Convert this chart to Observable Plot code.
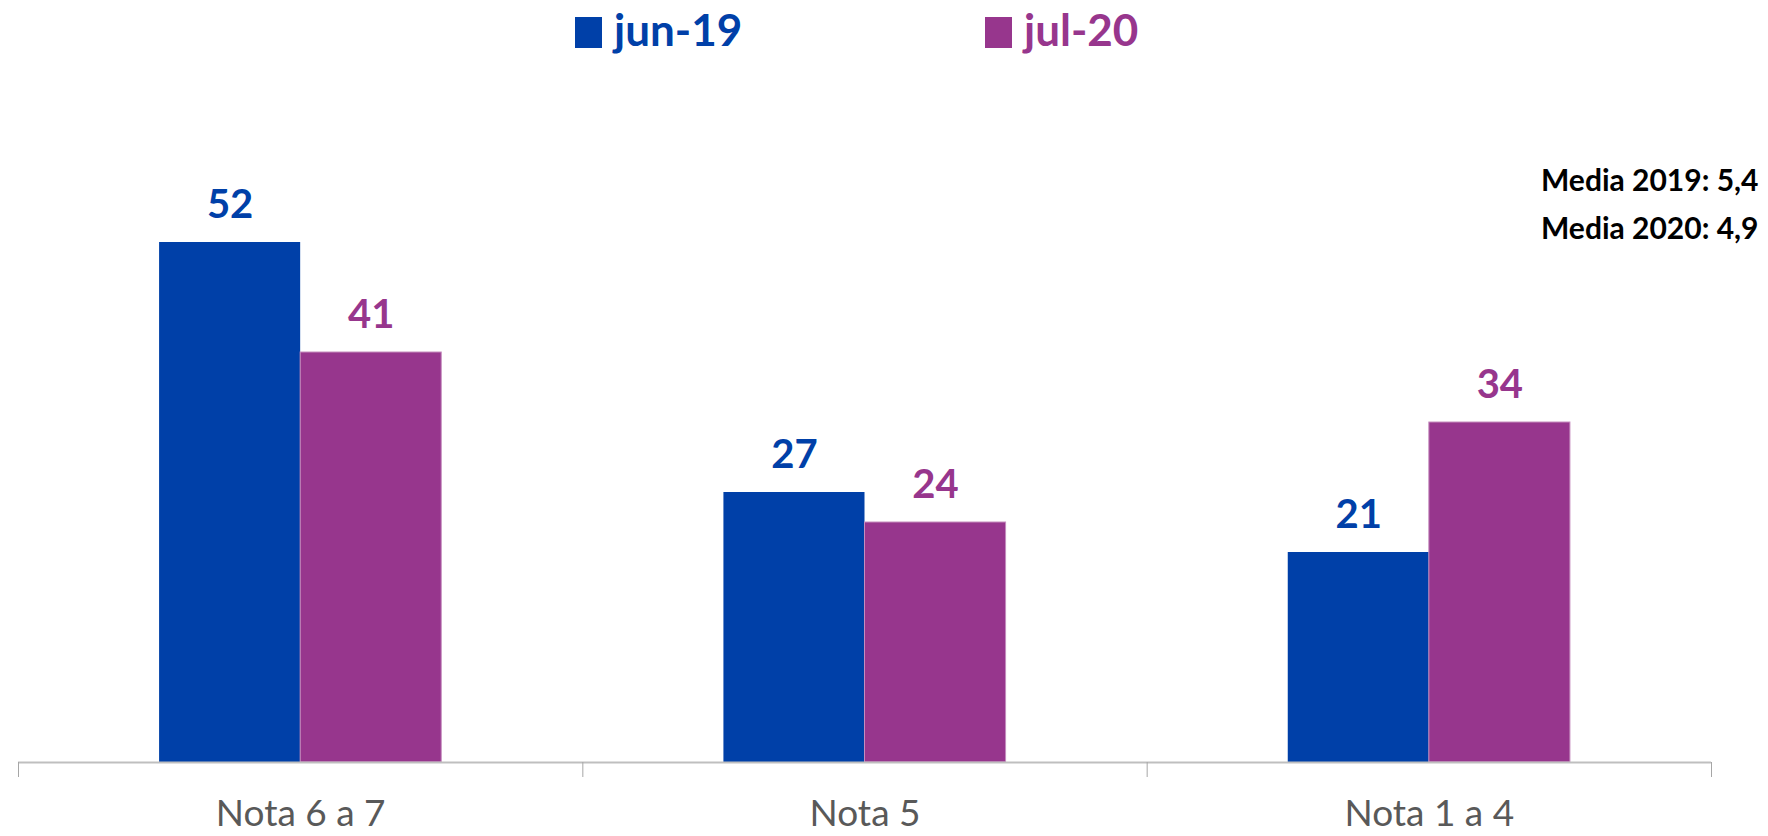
<!DOCTYPE html>
<html>
<head>
<meta charset="utf-8">
<script src="https://cdn.jsdelivr.net/npm/d3@7"></script>
<script src="https://cdn.jsdelivr.net/npm/@observablehq/plot@0.6"></script>
<style>
  html, body { margin: 0; padding: 0; background: #fff; }
  #wrap { position: relative; width: 1768px; height: 836px; overflow: hidden; font-family: Lato, "Open Sans", sans-serif; }
  #legend { position: relative; height: 100px; }
  .item { position: absolute; top: 0; display: flex; align-items: flex-end; font-weight: bold; font-size: 44px; }
  .sw { width: 27px; height: 31px; margin-right: 12px; margin-bottom: 10px; }
</style>
</head>
<body>
<div id="wrap">
  <div id="legend"></div>
  <div id="chart"></div>
</div>
<script>
const categories = ["Nota 6 a 7", "Nota 5", "Nota 1 a 4"];
const seriesNames = ["jun-19", "jul-20"];
const jun19 = [52, 27, 21];
const jul20 = [41, 24, 34];
const seriesColors = ["#0040A8", "#97368D"];
const annotations = ["Media 2019: 5,4", "Media 2020: 4,9"];

const seriesValues = [jun19, jul20];
const data = [];
categories.forEach((c, i) => {
  seriesValues.forEach((vals, j) => {
    data.push({category: c, series: seriesNames[j], value: vals[i], x1: i + 0.25 + 0.25 * j, x2: i + 0.5 + 0.25 * j, xm: i + 0.375 + 0.25 * j});
  });
});

// legend
const legend = document.getElementById("legend");
const legendLeft = [575, 985];
seriesNames.forEach((s, j) => {
  const it = document.createElement("div");
  it.className = "item";
  it.style.left = legendLeft[j] + "px";
  it.style.top = "0px";
  it.style.color = seriesColors[j];
  it.innerHTML = `<div class="sw" style="background:${seriesColors[j]}"></div><span style="line-height:58px">${s}</span>`;
  legend.appendChild(it);
});

const chart = Plot.plot({
  width: 1768,
  height: 736,
  marginLeft: 18,
  marginRight: 57,
  marginTop: 62,
  marginBottom: 74,
  style: {fontFamily: "Lato, 'Open Sans', sans-serif", background: "#fff"},
  x: {type: "linear", domain: [0, categories.length], axis: null},
  y: {domain: [0, 60], axis: null},
  color: {domain: seriesNames, range: seriesColors},
  marks: [
    Plot.rectY(data, {x1: "x1", x2: "x2", y1: 0, y2: "value", fill: "series", stroke: d => d.series === seriesNames[1] ? "#C58DBE" : "none", strokeWidth: 1}),
    Plot.ruleY([0], {stroke: "#BFBFBF", strokeWidth: 2}),
    Plot.axisX({ticks: d3.range(categories.length + 1), tickFormat: () => "", tickSize: 15, stroke: "#A6A6A6", strokeWidth: 1}),
    Plot.axisX({ticks: categories.map((c, i) => i + 0.5), tickFormat: (d) => categories[Math.floor(d)], tickSize: 0, tickPadding: 37, fontSize: 37, fill: "#595959"}),
    Plot.text(data, {x: "xm", y: "value", text: d => String(d.value), fill: "series", fontSize: 40, fontWeight: "bold", lineAnchor: "bottom", dy: -25}),
    Plot.text([annotations.join("\n")], {frameAnchor: "top-right", textAnchor: "end", lineAnchor: "top", lineHeight: 1.6, dx: 47, dy: -6, fontSize: 30, fontWeight: "bold", fill: "#000"})
  ]
});
document.getElementById("chart").appendChild(chart);
</script>
</body>
</html>
